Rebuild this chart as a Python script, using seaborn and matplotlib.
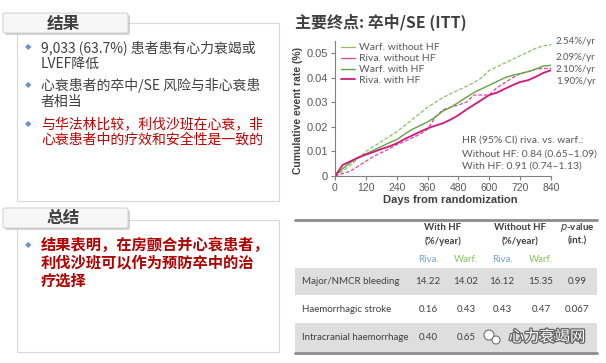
import seaborn as sns
import matplotlib.pyplot as plt
from matplotlib.patches import Rectangle, FancyBboxPatch, Circle
import matplotlib.patheffects as pe

# ---- data (cumulative event rate) ----
days = list(range(0, 841, 30))
warf_no_hf = [0, 0.002, 0.0045, 0.007, 0.010, 0.012, 0.014, 0.016, 0.018, 0.0205, 0.023, 0.0255, 0.028, 0.030,
              0.032, 0.0335, 0.035, 0.0365, 0.038, 0.040, 0.043, 0.0445, 0.046, 0.0475, 0.049, 0.0505, 0.052,
              0.053, 0.0535]
riva_no_hf = [0, 0.001, 0.002, 0.004, 0.006, 0.008, 0.0095, 0.011, 0.0128, 0.014, 0.0155, 0.017, 0.019, 0.024,
              0.027, 0.028, 0.029, 0.030, 0.033, 0.033, 0.033, 0.036, 0.038, 0.040, 0.0417, 0.0425, 0.0435,
              0.0438, 0.0438]
warf_hf = [0, 0.003, 0.0055, 0.0075, 0.009, 0.0105, 0.012, 0.0135, 0.0148, 0.017, 0.019, 0.0205, 0.022, 0.024,
           0.0265, 0.028, 0.030, 0.032, 0.034, 0.0355, 0.037, 0.0385, 0.040, 0.041, 0.0417, 0.0425, 0.0435,
           0.0448, 0.0451]
riva_hf = [0, 0.0045, 0.006, 0.0075, 0.0087, 0.0098, 0.011, 0.012, 0.0133, 0.015, 0.0165, 0.018, 0.0194, 0.0205,
           0.0215, 0.023, 0.0248, 0.027, 0.029, 0.031, 0.033, 0.034, 0.0355, 0.037, 0.0383, 0.039, 0.0404,
           0.042, 0.0431]
rate_labels = ['2.54%/yr', '2.09%/yr', '2.10%/yr', '1.90%/yr']

# ---- table ----
outcomes = ['Major/NMCR bleeding', 'Haemorrhagic stroke', 'Intracranial haemorrhage']
tab_riva_hf = ['14.22', '0.16', '0.40']
tab_warf_hf = ['14.02', '0.43', '0.65']
tab_riva_nohf = ['16.12', '0.43', '']
tab_warf_nohf = ['15.35', '0.47', '']
tab_p = ['0.99', '0.067', '']

# ---- left text ----
results = [('9,033 (63.7%) 患者患有心力衰竭或\nLVEF降低', '#404040'),
           ('心衰患者的卒中/SE 风险与非心衰患\n者相当', '#404040'),
           ('与华法林比较，利伐沙班在心衰，非\n心衰患者中的疗效和安全性是一致的', '#c00000')]
summary = '结果表明，在房颤合并心衰患者，\n利伐沙班可以作为预防卒中的治\n疗选择'

sns.set_style('ticks')
plt.rcParams['font.family'] = ['Noto Sans CJK SC', 'DejaVu Sans']

fig = plt.figure(figsize=(6.06, 3.63), dpi=100)
bg = fig.add_axes([0, 0, 1, 1])
bg.set_xlim(0, 606)
bg.set_ylim(363, 0)
bg.axis('off')

gray = '#404040'

# left boxes + tabs
for (top, bot, tab_y, title) in [(23, 201, 13, '结果'), (220, 352, 208, '总结')]:
    bg.add_patch(Rectangle((17, top), 262, bot - top, fill=False, ec='#d9d9d9', lw=0.8))
    bg.add_patch(FancyBboxPatch((5, tab_y + 2), 125, 20, boxstyle='round,pad=0,rounding_size=2',
                                fc='#b8b8b8', ec='none', alpha=0.6))
    bg.add_patch(FancyBboxPatch((3, tab_y), 125, 20, boxstyle='round,pad=0,rounding_size=2',
                                fc='#f7f7f7', ec='#c8c8c8', lw=0.6))
    bg.text(63, tab_y + 10.5, title, fontsize=12, fontweight='bold', color=gray, ha='center', va='center')

bullet_y = [47, 85, 124]
for yb, (txt, col) in zip(bullet_y, results):
    bg.text(28, yb, '◆', fontsize=6, color='#6f8fcf', ha='center', va='center', family='DejaVu Sans')
    bg.text(41, yb - 7, txt, fontsize=10, color=col, ha='left', va='top', linespacing=1.15)

bg.text(28, 245, '◆', fontsize=6, color='#6f8fcf', ha='center', va='center', family='DejaVu Sans')
bg.text(41, 237, summary, fontsize=11, color='#b00000', fontweight='bold', ha='left', va='top',
        linespacing=1.15)

# title
bg.text(295, 22, '主要终点: 卒中/SE (ITT)', fontsize=11.5, fontweight='bold', color=gray,
        ha='left', va='center')

# ---- KM chart ----
ax = fig.add_axes([335 / 606, 1 - 176 / 363, 216 / 606, 135 / 363])
ax.set_facecolor('none')
series = [(warf_no_hf, 'Warf. without HF', '#8cbf68', (3, 1.5), 0.9),
          (riva_no_hf, 'Riva. without HF', '#e0449f', (3, 1.5), 0.9),
          (warf_hf, 'Warf. with HF', '#62a33f', '', 1.0),
          (riva_hf, 'Riva. with HF', '#d4157e', '', 1.3)]
for vals, name, col, dash, lw in series:
    sns.lineplot(x=days, y=vals, ax=ax, color=col, lw=lw, label=name)
    if dash:
        ax.lines[-1].set_dashes(dash)

ax.set_xlim(0, 840)
ax.set_ylim(0, 0.055)
ax.set_xticks(range(0, 841, 120))
ax.set_yticks([0, 0.01, 0.02, 0.03, 0.04, 0.05])
ax.set_yticklabels(['0', '0.01', '0.02', '0.03', '0.04', '0.05'])
for s in ['top', 'right']:
    ax.spines[s].set_visible(False)
for s in ['left', 'bottom']:
    ax.spines[s].set_color('#808080')
    ax.spines[s].set_linewidth(0.8)
ax.tick_params(axis='both', colors='#808080', labelcolor='#595959', length=3, width=0.8, pad=2)
ax.tick_params(axis='y', labelsize=8)
ax.tick_params(axis='x', labelsize=7.5)
for t in ax.get_xticklabels() + ax.get_yticklabels():
    t.set_family('Liberation Sans')
ax.set_xlabel('')
ax.set_ylabel('')
leg = ax.legend(loc='upper left', bbox_to_anchor=(0.0, 1.03), frameon=False, fontsize=7.5,
                handlelength=1.3, handletextpad=0.4, labelspacing=0.15, borderaxespad=0.2)
for t in leg.get_texts():
    t.set_color('#595959')
    t.set_family('Lato')
for h in leg.get_lines():
    h.set_linestyle('-')

hr_lines = ['HR (95% CI) riva. vs. warf.:', 'Without HF: 0.84 (0.65–1.09)', 'With HF: 0.91 (0.74–1.13)']
for yy, t in zip([140, 154, 166], hr_lines):
    ax.text((462 - 335) / 216, (176 - yy) / 135, t, transform=ax.transAxes, fontsize=7.5,
            color='#595959', ha='left', va='center', family='Lato')

bg.text(298, 110, 'Cumulative event rate (%)', rotation=90, fontsize=7.5, fontweight='bold',
        color=gray, ha='center', va='center', family='Liberation Sans')
bg.text(450, 200, 'Days from randomization', fontsize=8, fontweight='bold', color=gray,
        ha='center', va='center', family='Liberation Sans')

for yy, lab in zip([42, 57, 70, 82], rate_labels):
    bg.text(556, yy, lab, fontsize=7, color='#595959', ha='left', va='center', family='Lato')

# ---- table ----
bg.add_patch(Rectangle((295, 268), 302, 27, fc='#dedede', ec='none'))
bg.add_patch(Rectangle((295, 323), 302, 29, fc='#dedede', ec='none'))
bg.plot([295, 597], [220, 220], color='#8c8c8c', lw=2)
bg.plot([295, 597], [353, 353], color='#8c8c8c', lw=2)

col_x = [428, 466, 502, 541, 577]
tf = dict(fontsize=7, color=gray, family='Lato', va='center')
bg.text(443, 228, 'With HF', ha='center', fontweight='bold', **tf)
bg.text(443, 241, '(%/year)', ha='center', fontweight='bold', **tf)
bg.text(520, 228, 'Without HF', ha='center', fontweight='bold', **tf)
bg.text(520, 241, '(%/year)', ha='center', fontweight='bold', **tf)
bg.text(577, 228, r'$\it{p}$-value', ha='center', fontweight='bold', **tf)
bg.text(577, 241, '(int.)', ha='center', fontweight='bold', **tf)
for x, lab, c in zip(col_x[:4], ['Riva.', 'Warf.', 'Riva.', 'Warf.'],
                     ['#6fa3d8', '#8cc05a', '#6fa3d8', '#8cc05a']):
    bg.text(x, 259, lab, ha='center', fontsize=7, color=c, family='Lato', va='center')

for i, yy in enumerate([282, 309, 337]):
    bg.text(302, yy, outcomes[i], ha='left', **tf)
    vals = [tab_riva_hf[i], tab_warf_hf[i], tab_riva_nohf[i], tab_warf_nohf[i], tab_p[i]]
    for x, v in zip(col_x, vals):
        bg.text(x, yy, v, ha='center', **tf)

# watermark
bg.add_patch(Circle((489, 335), 5, fc='white', ec='#707070', lw=0.8))
bg.add_patch(Circle((496, 340), 4, fc='white', ec='#707070', lw=0.8))
bg.text(547, 337, '心力衰竭网', fontsize=11, color='white', ha='center', va='center',
        path_effects=[pe.withStroke(linewidth=1.8, foreground='#606060')])

fig.savefig('out.png', dpi=100)
